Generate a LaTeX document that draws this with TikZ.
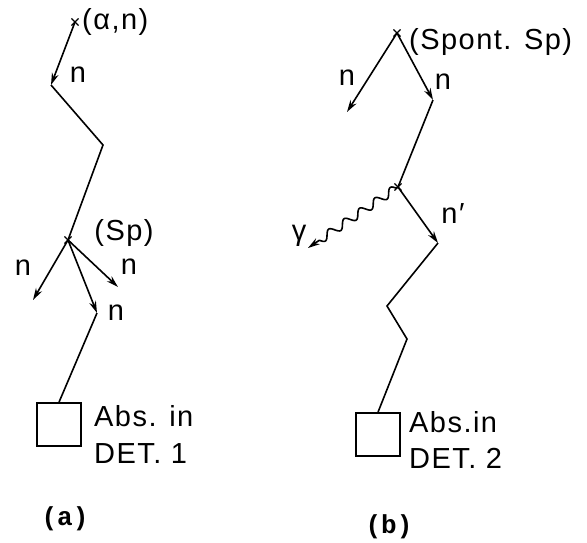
\documentclass[tikz,border=0pt]{standalone}
\usepackage{fontspec}
\setmainfont[LetterSpace=5]{Liberation Sans}
\newfontfamily\capfont{Liberation Mono}
\usetikzlibrary{arrows.meta,decorations.pathmorphing,shapes.misc}
\begin{document}
\begin{tikzpicture}[x=1pt,y=-1pt,
 ray/.style={line width=1.6pt},
 arr/.style={ray,-{Stealth[length=12pt,width=7pt]}},
 lbl/.style={font=\fontsize{29}{31}\selectfont, inner sep=0pt},
 vtx/.style={cross out, draw, line width=1.1pt, minimum size=6pt, inner sep=0pt},
 det/.style={draw, line width=1.6pt, minimum width=44pt, minimum height=43pt, inner sep=0pt},
 panelcap/.style={font=\capfont\bfseries\fontsize{26}{28}\selectfont, inner sep=0pt}]
\useasboundingbox (0,0) rectangle (587,542);
% panel (a)
\coordinate (A0) at (75,22);
\coordinate (A1) at (51,85);
\coordinate (A2) at (103,145);
\coordinate (A3) at (68,240);
\coordinate (Al) at (33,300);
\coordinate (Ar) at (118,287);
\coordinate (Am) at (97,313);
\node[det] (DA) at (59,424.5) {};
\node[vtx] (xA0) at (A0) {};
\node[vtx] (xA3) at (A3) {};
\draw[arr] (A0) -- (A1);
\draw[ray] (A1) -- (A2) -- (A3);
\draw[arr] (A3) -- (Al);
\draw[arr] (A3) -- (Ar);
\draw[arr] (A3) -- (Am);
\draw[ray] (Am) -- (DA.north);
\node[lbl, anchor=west] (lA0) at (82,22) {(α,n)};
\node[lbl] (lA1) at (78,75) {n};
\node[lbl] (lA3) at (124,233) {(Sp)};
\node[lbl] (lAl) at (23,268) {n};
\node[lbl] (lAr) at (129,267) {n};
\node[lbl] (lAm) at (116,313) {n};
\node[lbl, anchor=base west] (tA1) at (94,426) {Abs. in};
\node[lbl, anchor=base west] (tA2) at (94,463) {DET. 1};
\node[panelcap] (capa) at (65,519) {(a)};
% panel (b)
\coordinate (B0) at (397,33);
\coordinate (Bl) at (347,112);
\coordinate (B1) at (433,100);
\coordinate (B2) at (398,187);
\coordinate (Bg) at (308,248);
\coordinate (B3) at (438,243);
\coordinate (B4) at (387,306);
\coordinate (B5) at (407,339);
\node[det] (DB) at (378,434.5) {};
\node[vtx] (xB0) at (B0) {};
\node[vtx] (xB2) at (B2) {};
\draw[arr] (B0) -- (Bl);
\draw[arr] (B0) -- (B1);
\draw[ray] (B1) -- (B2);
\begin{scope}[shift={(B2)}, rotate=214.1]
\draw[arr, line join=round] (B2) -- plot[domain=2:95, samples=120, smooth] (\x, {4*sin(19.355*(\x-2))}) -- (Bg);
\end{scope}
\draw[arr] (B2) -- (B3);
\draw[ray] (B3) -- (B4) -- (B5) -- (DB.north);
\node[lbl, anchor=west] (lB0) at (409,42) {(Spont. Sp)};
\node[lbl] (lBl) at (347,78) {n};
\node[lbl] (lB1) at (443,82) {n};
\node[lbl] (lBg) at (299,236) {γ};
\node[lbl] (lB3) at (453,214) {n′};
\node[lbl, anchor=base west] (tB1) at (409,432) {Abs.in};
\node[lbl, anchor=base west] (tB2) at (409,468) {DET. 2};
\node[panelcap] (capb) at (389,527) {(b)};
\end{tikzpicture}
\end{document}
